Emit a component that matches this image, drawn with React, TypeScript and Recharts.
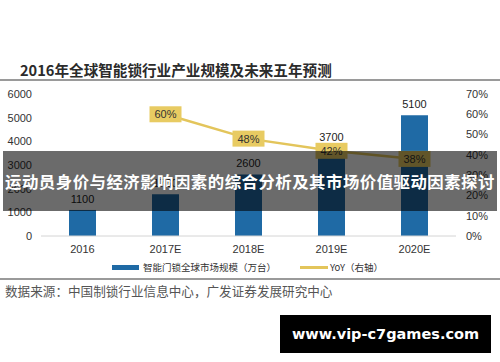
import React from "react";
import {
  ComposedChart,
  Bar,
  Line,
  XAxis,
  YAxis,
  LabelList,
} from "recharts";

const YEARS = ["2016", "2017E", "2018E", "2019E", "2020E"];
const MARKET_SIZE = [1100, 1760, 2600, 3700, 5100];
const YOY = [null, 0.6, 0.48, 0.42, 0.38];
const LEFT_TICKS = [0, 1000, 2000, 3000, 4000, 5000, 6000];
const RIGHT_TICKS = [0, 0.1, 0.2, 0.3, 0.4, 0.5, 0.6, 0.7];

const data = YEARS.map((year, i) => ({
  year,
  size: MARKET_SIZE[i],
  yoy: YOY[i],
}));

const BLUE = "#1f6aa5";
const GOLD = "#e3c55b";
const FONT = "'Liberation Sans', Arial, sans-serif";
const CJK = "'Noto Sans CJK SC', sans-serif";

const YoyLabel = (props: any) => {
  const { x, y, value } = props;
  if (value == null) return null;
  return (
    <g>
      <rect x={x - 16} y={y - 8} width={32} height={16} fill="#e8cb62" />
      <text
        x={x}
        y={y + 4}
        textAnchor="middle"
        fontSize={11}
        fontFamily={FONT}
        fill="#333"
      >
        {Math.round(value * 100)}%
      </text>
    </g>
  );
};

export default function App() {
  return (
    <div
      style={{
        position: "absolute",
        left: 0,
        top: 0,
        width: 500,
        height: 362,
        background: "#fff",
        overflow: "hidden",
      }}
    >
      {/* title */}
      <div
        style={{
          position: "absolute",
          left: 20,
          top: 60,
          fontFamily: CJK,
          fontWeight: 700,
          fontSize: 14.6,
          lineHeight: "20px",
          color: "#2b2b2b",
          whiteSpace: "nowrap",
        }}
      >
        2016年全球智能锁行业产业规模及未来五年预测
      </div>
      <div style={{ position: "absolute", left: 0, top: 79, width: 500, height: 1.5, background: "#9a9a9a" }} />

      <div style={{ position: "absolute", left: 0, top: 80 }}>
        <ComposedChart
          width={500}
          height={200}
          data={data}
          margin={{ top: 14, right: 0, bottom: 24, left: 0 }}
        >
          <XAxis
            dataKey="year"
            height={20}
            tickLine={false}
            tickSize={0}
            tickMargin={9}
            axisLine={{ stroke: "#d4d4d4" }}
            tick={{ fill: "#333", fontSize: 11, fontFamily: FONT }}
          />
          <YAxis
            yAxisId="left"
            width={41}
            domain={[0, 6000]}
            ticks={LEFT_TICKS}
            axisLine={false}
            tickLine={false}
            tickSize={0}
            tickMargin={9}
            tick={{ fill: "#333", fontSize: 11, fontFamily: FONT }}
          />
          <YAxis
            yAxisId="right"
            orientation="right"
            width={44}
            domain={[0, 0.7]}
            ticks={RIGHT_TICKS}
            axisLine={false}
            tickLine={false}
            tickSize={0}
            tickMargin={10}
            tickFormatter={(v) => `${Math.round(v * 100)}%`}
            tick={{ fill: "#333", fontSize: 11, fontFamily: FONT, textAnchor: "start" }}
          />
          <Bar yAxisId="left" dataKey="size" fill={BLUE} barSize={27} isAnimationActive={false}>
            <LabelList
              dataKey="size"
              position="top"
              offset={7}
              fill="#222"
              fontSize={11}
              fontFamily={FONT}
            />
          </Bar>
          <Line
            yAxisId="right"
            dataKey="yoy"
            stroke={GOLD}
            strokeWidth={2.5}
            dot={false}
            activeDot={false}
            connectNulls
            isAnimationActive={false}
          >
            <LabelList dataKey="yoy" content={<YoyLabel />} />
          </Line>
        </ComposedChart>
      </div>

      {/* legend */}
      <div
        style={{
          position: "absolute",
          left: 112,
          top: 259,
          display: "flex",
          alignItems: "center",
          fontFamily: CJK,
          fontSize: 9.5,
          color: "#333",
          lineHeight: "16px",
          whiteSpace: "nowrap",
        }}
      >
        <span style={{ display: "inline-block", width: 27, height: 5, background: BLUE, marginRight: 4 }} />
        <span>智能门锁全球市场规模（万台）</span>
        <span style={{ display: "inline-block", width: 28, height: 3, background: GOLD, marginLeft: 24, marginRight: 2 }} />
        <span>YoY（右轴）</span>
      </div>
      <div style={{ position: "absolute", left: 0, top: 278, width: 500, height: 1.5, background: "#9a9a9a" }} />

      {/* source */}
      <div
        style={{
          position: "absolute",
          left: 5,
          top: 282,
          fontFamily: CJK,
          fontSize: 12.6,
          lineHeight: "18px",
          color: "#555",
          whiteSpace: "nowrap",
        }}
      >
        数据来源：中国制锁行业信息中心，广发证券发展研究中心
      </div>

      {/* overlay banner */}
      <div
        style={{
          position: "absolute",
          left: 3,
          top: 151,
          width: 494,
          height: 60,
          background: "rgba(0,0,0,0.58)",
          color: "#fff",
          fontFamily: CJK,
          fontWeight: 700,
          fontSize: 16.4,
          letterSpacing: 0.5,
          lineHeight: "60px",
          textAlign: "center",
          whiteSpace: "nowrap",
        }}
      >
        运动员身价与经济影响因素的综合分析及其市场价值驱动因素探讨
      </div>

      {/* watermark */}
      <div
        style={{
          position: "absolute",
          left: 280,
          top: 315,
          width: 211,
          height: 38,
          background: "#000",
          color: "#fff",
          fontFamily: "'DejaVu Sans', sans-serif",
          fontWeight: 700,
          fontSize: 14.5,
          lineHeight: "38px",
          textAlign: "center",
          whiteSpace: "nowrap",
        }}
      >
        www.vip-c7games.com
      </div>
    </div>
  );
}
